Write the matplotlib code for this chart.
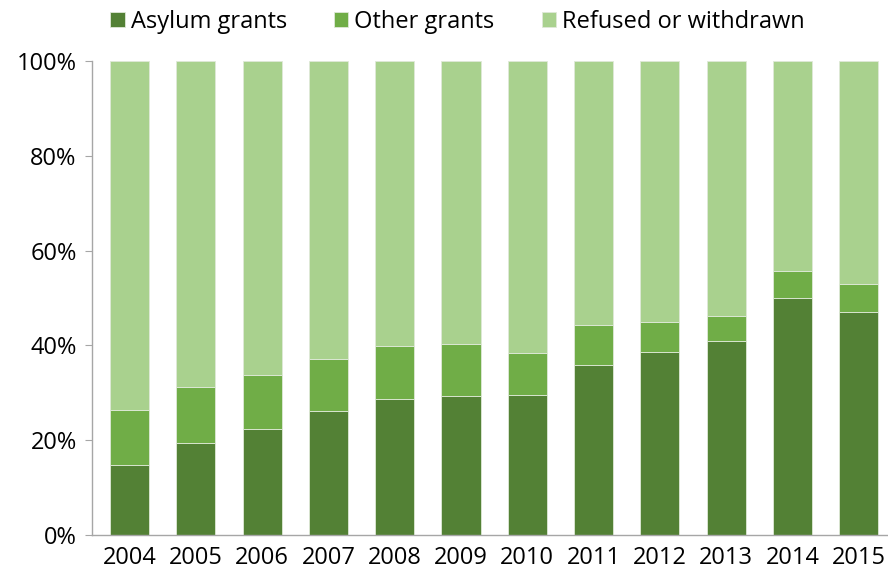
import numpy as np
import matplotlib.pyplot as plt
from matplotlib.ticker import PercentFormatter

plt.rcParams['font.family'] = ['Open Sans', 'DejaVu Sans']

# Data (percent of decisions)
years = ["2004", "2005", "2006", "2007", "2008", "2009",
         "2010", "2011", "2012", "2013", "2014", "2015"]
asylum = [14.8, 19.4, 22.4, 26.2, 28.7, 29.3, 29.5, 35.8, 38.7, 40.9, 49.9, 47.0]
other_top = [26.4, 31.2, 33.8, 37.1, 39.9, 40.3, 38.4, 44.2, 44.9, 46.1, 55.8, 53.0]
other = [t - a for t, a in zip(other_top, asylum)]
refused = [100 - t for t in other_top]

colors = ["#538135", "#70AD47", "#A9D18E"]

fig = plt.figure(figsize=(8.88, 5.75), dpi=100)
ax = fig.add_axes([0.1036, 0.0696, 0.8964, 0.8243])

x = np.arange(len(years))
w = 0.59
ax.bar(x, asylum, w, color=colors[0], edgecolor="#dfe9d8", linewidth=0.6, label="Asylum grants")
ax.bar(x, other, w, bottom=asylum, color=colors[1], edgecolor="#dfe9d8", linewidth=0.6, label="Other grants")
ax.bar(x, refused, w, bottom=other_top, color=colors[2], edgecolor="#dfe9d8", linewidth=0.6,
       label="Refused or withdrawn")

ax.set_xlim(-0.565, 11.44)
ax.set_ylim(0, 100)
ax.set_xticks(x)
ax.set_xticklabels(years)
ax.set_yticks(np.arange(0, 101, 20))
ax.yaxis.set_major_formatter(PercentFormatter(decimals=0))

for s in ["top", "right"]:
    ax.spines[s].set_visible(False)
for s in ["left", "bottom"]:
    ax.spines[s].set_color("#a6a6a6")
    ax.spines[s].set_linewidth(1)

ax.tick_params(axis="x", length=0, labelsize=17, pad=8)
ax.tick_params(axis="y", length=5, color="#a6a6a6", labelsize=17, pad=6)

fig.legend(loc="upper center", bbox_to_anchor=(0.515, 1.02), ncol=3, frameon=False,
           fontsize=17, handlelength=0.6, handleheight=0.6, handletextpad=0.25,
           columnspacing=2.0)

fig.savefig("out.png", dpi=100)
